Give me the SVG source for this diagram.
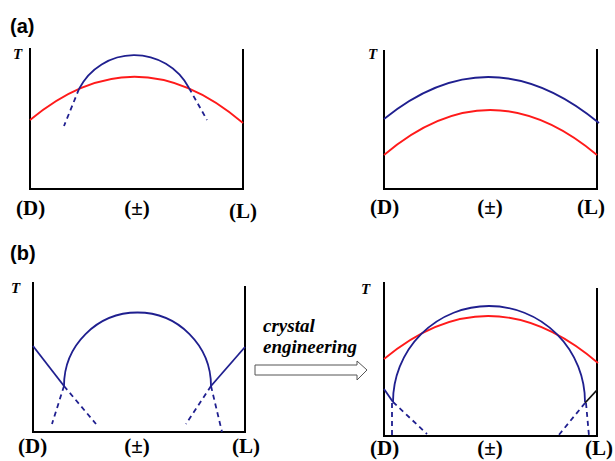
<svg xmlns="http://www.w3.org/2000/svg" width="615" height="461" viewBox="0 0 615 461">
<style>
.ax{fill:none;stroke:#000;stroke-width:2}
.bl{fill:none;stroke:#1f1f8f;stroke-width:1.8}
.bd{fill:none;stroke:#1f1f8f;stroke-width:1.8;stroke-dasharray:5,4}
.rd{fill:none;stroke:#ff1a1a;stroke-width:1.8}
.lab{font-family:"Liberation Serif",serif;font-weight:bold;font-size:21px;fill:#000}
.T{font-family:"Liberation Serif",serif;font-weight:bold;font-style:italic;font-size:15px;fill:#000}
.pn{font-family:"Liberation Sans",sans-serif;font-weight:bold;font-size:20px;fill:#000}
.ce{font-family:"Liberation Serif",serif;font-weight:bold;font-style:italic;font-size:19px;fill:#000}
</style>
<rect width="615" height="461" fill="#fff"/>
<text class="pn" x="10" y="33">(a)</text>
<text class="pn" x="10" y="260">(b)</text>

<g id="panel-a-left">
<path class="ax" d="M30,48 V189 H243 V49"/>
<path class="rd" d="M30,120 Q136,32 243,123"/>
<path class="bl" d="M79,89 A62,62 0 0 1 189,88"/>
<path class="bd" d="M79,89 L64,126"/>
<path class="bd" d="M189,88 L207,120"/>
<text class="T" x="13" y="59">T</text>
<text class="lab" x="16" y="215">(D)</text>
<text class="lab" x="137" y="215" text-anchor="middle">(±)</text>
<text class="lab" x="229" y="218">(L)</text>
</g>

<g id="panel-a-right">
<path class="ax" d="M384,50 V189 H597 V49"/>
<path class="bl" d="M384,119 Q490,33 599,123"/>
<path class="rd" d="M384,155 Q490,65 597,155"/>
<text class="T" x="368" y="59">T</text>
<text class="lab" x="370" y="214">(D)</text>
<text class="lab" x="490" y="214" text-anchor="middle">(±)</text>
<text class="lab" x="577" y="214">(L)</text>
</g>

<g id="panel-b-left">
<path class="ax" d="M33,282 V432 H245 V286"/>
<path class="bl" d="M64,386 A73.5,73.5 0 0 1 211,386"/>
<path class="bl" d="M33,346 L64,386"/>
<path class="bl" d="M211,386 L245,347"/>
<path class="bd" d="M64,386 L52,424"/>
<path class="bd" d="M64,386 L96,424"/>
<path class="bd" d="M211,386 L186,424"/>
<path class="bd" d="M211,386 L222,432"/>
<text class="T" x="11" y="293">T</text>
<text class="lab" x="18" y="453">(D)</text>
<text class="lab" x="137" y="453" text-anchor="middle">(±)</text>
<text class="lab" x="232" y="453">(L)</text>
</g>

<g id="arrow">
<path d="M255,365 H357 V361 L367,370 L357,380 V375 H255 Z" fill="#fff" stroke="#555" stroke-width="1"/>
<text class="ce" x="263" y="332">crystal</text>
<text class="ce" x="263" y="353">engineering</text>
</g>

<g id="panel-b-right">
<path class="ax" d="M384,282 V436 H597 V288"/>
<path class="rd" d="M384,359 Q490,271 598,363"/>
<path class="bl" d="M393,402 A96,96 0 0 1 585,402"/>
<path class="bl" d="M384,389 L393,402"/>
<path d="M585,403 L597,390" fill="none" stroke="#111" stroke-width="1.8"/>
<path class="bd" d="M392,403 L392,436"/>
<path class="bd" d="M393,402 L427,434"/>
<path class="bd" d="M585,403 L558,436"/>
<path class="bd" d="M586,403 L589,436"/>
<text class="T" x="361" y="294">T</text>
<text class="lab" x="370" y="455">(D)</text>
<text class="lab" x="490" y="455" text-anchor="middle">(±)</text>
<text class="lab" x="585" y="455">(L)</text>
</g>
</svg>
